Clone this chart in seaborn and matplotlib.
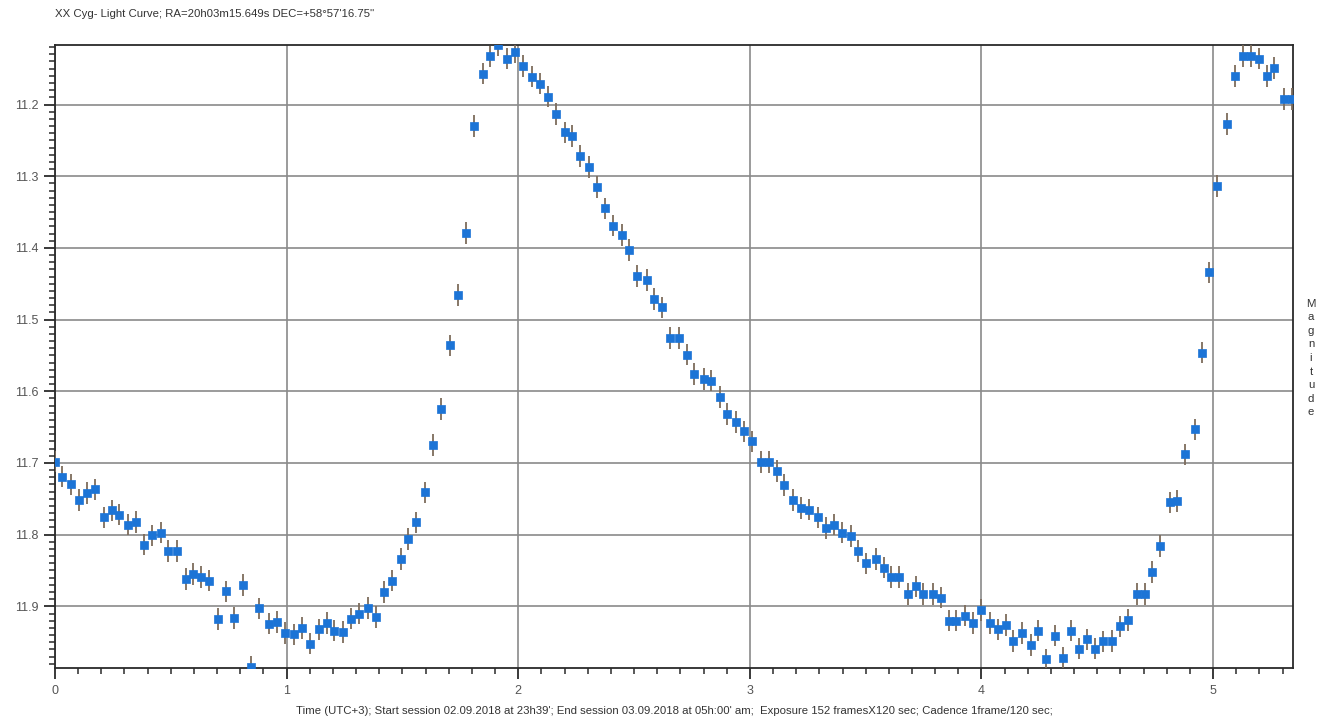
import matplotlib
matplotlib.use("Agg")
import matplotlib.pyplot as plt
from matplotlib.ticker import MultipleLocator
import seaborn as sns
import pandas as pd

# Time (hours from session start)
time_h = [0.000, 0.030, 0.070, 0.103, 0.138, 0.171, 0.210, 0.244, 0.277, 0.317,
          0.351, 0.384, 0.419, 0.457, 0.490, 0.525, 0.564, 0.597, 0.630, 0.665,
          0.704, 0.738, 0.771, 0.812, 0.846, 0.879, 0.924, 0.959, 0.991, 1.030,
          1.065, 1.099, 1.138, 1.173, 1.206, 1.245, 1.279, 1.314, 1.352, 1.386,
          1.421, 1.454, 1.492, 1.526, 1.560, 1.599, 1.632, 1.667, 1.707, 1.740,
          1.775, 1.808, 1.848, 1.880, 1.913, 1.952, 1.985, 2.019, 2.060, 2.095,
          2.127, 2.161, 2.201, 2.234, 2.267, 2.307, 2.341, 2.375, 2.408, 2.449,
          2.480, 2.514, 2.554, 2.588, 2.622, 2.654, 2.695, 2.728, 2.761, 2.800,
          2.834, 2.869, 2.902, 2.941, 2.976, 3.009, 3.049, 3.084, 3.117, 3.149,
          3.187, 3.222, 3.257, 3.296, 3.328, 3.362, 3.396, 3.435, 3.468, 3.503,
          3.543, 3.578, 3.611, 3.644, 3.683, 3.716, 3.749, 3.789, 3.824, 3.858,
          3.892, 3.929, 3.964, 3.999, 4.035, 4.071, 4.104, 4.138, 4.177, 4.212,
          4.246, 4.280, 4.319, 4.352, 4.385, 4.423, 4.457, 4.492, 4.525, 4.564,
          4.598, 4.633, 4.670, 4.705, 4.738, 4.771, 4.812, 4.846, 4.879, 4.920,
          4.954, 4.984, 5.017, 5.059, 5.094, 5.127, 5.164, 5.199, 5.232, 5.265,
          5.305, 5.340]

magnitude = [11.698, 11.719, 11.730, 11.752, 11.742, 11.737, 11.776, 11.766, 11.772, 11.786,
             11.782, 11.814, 11.801, 11.797, 11.823, 11.823, 11.862, 11.855, 11.859, 11.864,
             11.918, 11.879, 11.916, 11.870, 11.984, 11.903, 11.924, 11.922, 11.937, 11.939,
             11.930, 11.952, 11.932, 11.923, 11.934, 11.936, 11.917, 11.910, 11.902, 11.915,
             11.880, 11.864, 11.834, 11.806, 11.783, 11.741, 11.675, 11.625, 11.536, 11.466,
             11.379, 11.230, 11.157, 11.133, 11.117, 11.136, 11.127, 11.146, 11.161, 11.171,
             11.189, 11.213, 11.239, 11.244, 11.272, 11.287, 11.315, 11.345, 11.369, 11.382,
             11.403, 11.439, 11.445, 11.471, 11.483, 11.526, 11.526, 11.549, 11.576, 11.583,
             11.585, 11.608, 11.632, 11.643, 11.656, 11.670, 11.699, 11.699, 11.711, 11.731,
             11.752, 11.763, 11.765, 11.776, 11.791, 11.786, 11.797, 11.802, 11.823, 11.840,
             11.834, 11.846, 11.859, 11.859, 11.883, 11.872, 11.883, 11.883, 11.888, 11.920,
             11.920, 11.913, 11.923, 11.905, 11.923, 11.932, 11.926, 11.948, 11.937, 11.954,
             11.934, 11.974, 11.941, 11.972, 11.934, 11.959, 11.946, 11.959, 11.949, 11.948,
             11.928, 11.919, 11.883, 11.883, 11.852, 11.816, 11.755, 11.753, 11.688, 11.653,
             11.546, 11.434, 11.314, 11.227, 11.160, 11.132, 11.132, 11.136, 11.160, 11.149,
             11.192, 11.192]

mag_err = 0.015

x_ticks = [0, 1, 2, 3, 4, 5]
y_ticks = [11.2, 11.3, 11.4, 11.5, 11.6, 11.7, 11.8, 11.9]

title_text = "XX Cyg- Light Curve; RA=20h03m15.649s DEC=+58°57'16.75''"
xlabel_text = ("Time (UTC+3); Start session 02.09.2018 at 23h39'; End session 03.09.2018 "
               "at 05h:00' am;  Exposure 152 framesX120 sec; Cadence 1frame/120 sec;")
ylabel_text = "Magnitude"

df = pd.DataFrame({"time": time_h, "mag": magnitude})

sns.set_style("white")
plt.rcParams["font.family"] = ["Liberation Sans", "DejaVu Sans"]

fig = plt.figure(figsize=(13.27, 7.2), dpi=100)
ax = fig.add_axes([55 / 1327, 1 - 668 / 720, (1293 - 55) / 1327, (668 - 45) / 720])

ax.errorbar(df["time"], df["mag"], yerr=mag_err, fmt="none", ecolor="#7d6c5c",
            elinewidth=1.3, capsize=0, zorder=3)
sns.scatterplot(data=df, x="time", y="mag", ax=ax, marker="s", s=32,
                color="#1c74d6", edgecolor="#1c74d6", linewidth=0.5, zorder=4,
                clip_on=True)

ax.set_xlim(0, 5.345)
ax.set_ylim(11.986, 11.117)
ax.set_xticks(x_ticks)
ax.set_yticks(y_ticks)
ax.set_xticklabels([str(t) for t in x_ticks])
ax.set_yticklabels([f"{t:.1f}" for t in y_ticks])
ax.xaxis.set_minor_locator(MultipleLocator(0.1))
ax.yaxis.set_minor_locator(MultipleLocator(0.01))

ax.grid(True, which="major", color="#8a8a8a", linewidth=1.2)
ax.set_axisbelow(True)

for s in ax.spines.values():
    s.set_color("#2a2a2a")
    s.set_linewidth(1.3)

ax.tick_params(axis="both", which="major", direction="out", length=8, width=1.3,
               color="#2a2a2a", labelsize=9, labelcolor="#555555", pad=4)
ax.tick_params(axis="both", which="minor", direction="out", length=4, width=1.1,
               color="#2a2a2a")
ax.tick_params(axis="y", which="both", left=True, right=False)
ax.tick_params(axis="x", which="both", bottom=True, top=False)

ax.set_xlabel(xlabel_text, fontsize=8.2, color="#333333", labelpad=7)
ax.set_ylabel("")

fig.text(55 / 1327, 1 - 14 / 720, title_text, fontsize=8.2, color="#333333",
         ha="left", va="center")
fig.text(1311 / 1327, 1 - 358 / 720, "\n".join(ylabel_text), fontsize=8.2,
         color="#333333", ha="center", va="center", linespacing=1.45)

fig.savefig("out.png", dpi=100, facecolor="white")
